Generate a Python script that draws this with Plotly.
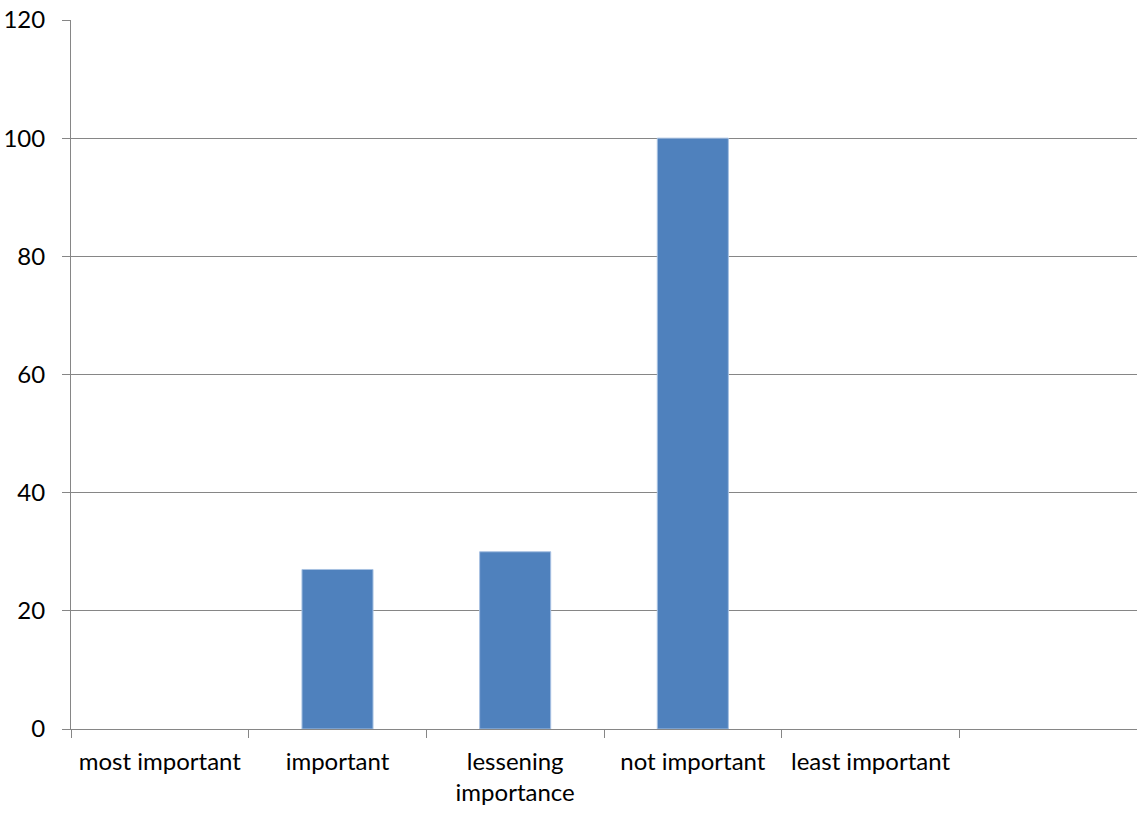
import plotly.graph_objects as go

categories = ["most important", "important", "lessening<br>importance", "not important", "least important", " "]
values = [None, 27, 30, 100, None, None]
y_ticks = [0, 20, 40, 60, 80, 100, 120]

fig = go.Figure(go.Bar(
    x=categories, y=values, width=0.4,
    marker=dict(color="#4F81BD", line=dict(color="#A7C1E2", width=1)),
))

grid = "#868686"
fig.update_layout(
    width=1137, height=820,
    margin=dict(l=71, r=0, t=20, b=91),
    paper_bgcolor="white", plot_bgcolor="white",
    font=dict(family="Lato", size=24, color="black"),
    showlegend=False,
)
fig.update_xaxes(
    type="category", range=[-0.5, 5.5], tickson="boundaries",
    ticks="outside", ticklen=8, tickcolor=grid, tickwidth=1,
    showline=True, linecolor=grid, linewidth=1, showgrid=False,
    ticklabelstandoff=11,
)
fig.update_yaxes(
    range=[0, 120], tickvals=y_ticks, ticks="outside", ticklen=8,
    tickcolor=grid, showline=True, linecolor=grid, linewidth=1,
    showgrid=True, gridcolor=grid, gridwidth=1, zeroline=False,
    ticklabelstandoff=12,
)
fig.write_html("out.html")
